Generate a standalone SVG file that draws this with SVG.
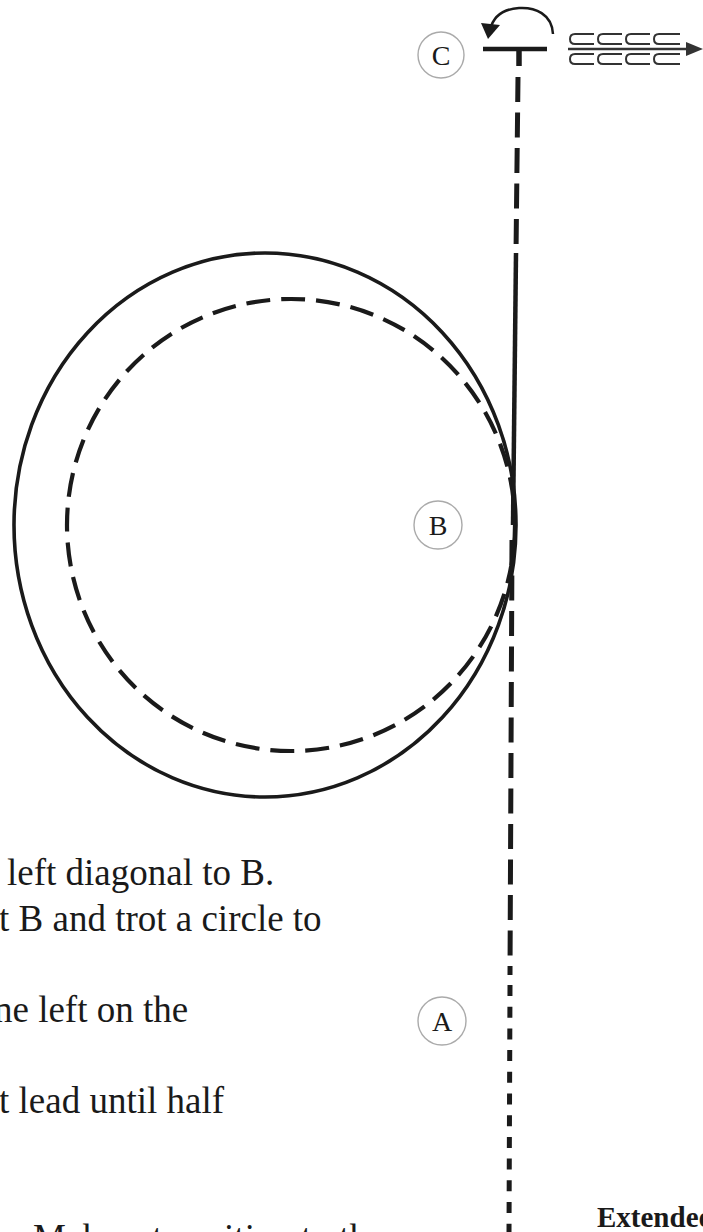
<svg xmlns="http://www.w3.org/2000/svg" width="703" height="1232" viewBox="0 0 703 1232">
<style>
.txt{font-family:"Liberation Serif","Times New Roman",serif;font-size:37px;fill:#1a1a1a}
.bold{font-family:"Liberation Serif","Times New Roman",serif;font-size:29px;font-weight:bold;fill:#1a1a1a}
.lbl{font-family:"Liberation Serif","Times New Roman",serif;font-size:28px;fill:#1a1a1a;text-anchor:middle}
.ring{fill:#fff;stroke:#aaa;stroke-width:1.4}
.ln{fill:none;stroke:#1a1a1a;stroke-linecap:butt}
.hoof{fill:none;stroke:#333;stroke-width:2}
</style>
<rect width="703" height="1232" fill="#fff"/>
<g id="connectors">
<ellipse class="ln" cx="265" cy="525" rx="251" ry="272" stroke-width="3.6"/>
<ellipse class="ln" cx="291" cy="525" rx="224" ry="226" stroke-width="4.2" stroke-dasharray="24 11"/>
<line class="ln" x1="483" y1="49" x2="547" y2="49" stroke-width="4.5"/>
<line class="ln" x1="519" y1="49" x2="519" y2="66" stroke-width="5.5"/>
<line class="ln" x1="518" y1="77" x2="516" y2="253" stroke-width="5" stroke-dasharray="25 10.5"/>
<line class="ln" x1="516" y1="253" x2="513" y2="525" stroke-width="4.5"/>
<line class="ln" x1="512" y1="540" x2="510" y2="975" stroke-width="5" stroke-dasharray="25 10.5"/>
<line class="ln" x1="510" y1="985" x2="509" y2="1232" stroke-width="5" stroke-dasharray="11 10.7"/>
<path class="ln" d="M553,34 C552,14 535,7 519,8 C503,9 493,17 490,30" stroke-width="2.5"/>
<path d="M481,23 L500,25 L488,39 Z" fill="#1a1a1a"/>
<line x1="568" y1="49" x2="688" y2="49" stroke="#333" stroke-width="2.5"/>
<path d="M686,42 L703,49 L686,56 Z" fill="#333"/>
<g id="hooves">
<path class="hoof" d="M594,34 H575 Q570,34 570,39 Q570,44 575,44 H594"/>
<path class="hoof" d="M622,34 H603 Q598,34 598,39 Q598,44 603,44 H622"/>
<path class="hoof" d="M650,34 H631 Q626,34 626,39 Q626,44 631,44 H650"/>
<path class="hoof" d="M680,34 H659 Q654,34 654,39 Q654,44 659,44 H680"/>
<path class="hoof" d="M594,54 H575 Q570,54 570,59 Q570,64 575,64 H594"/>
<path class="hoof" d="M622,54 H603 Q598,54 598,59 Q598,64 603,64 H622"/>
<path class="hoof" d="M650,54 H631 Q626,54 626,59 Q626,64 631,64 H650"/>
<path class="hoof" d="M680,54 H659 Q654,54 654,59 Q654,64 659,64 H680"/>
</g>
</g>
<g id="nodeC"><circle class="ring" cx="441" cy="55" r="23"/><text class="lbl" x="441" y="65">C</text></g>
<g id="nodeB"><circle class="ring" cx="438" cy="525" r="24"/><text class="lbl" x="438" y="535">B</text></g>
<g id="nodeA"><circle class="ring" cx="442" cy="1021" r="24"/><text class="lbl" x="442" y="1031">A</text></g>
<g id="text">
<text class="txt" x="7" y="885">left diagonal to B.</text>
<text class="txt" x="-1" y="931">t B and trot a circle to</text>
<text class="txt" x="-6" y="1022">ne left on the</text>
<text class="txt" x="-1" y="1113">t lead until half</text>
<text class="txt" x="33" y="1250">Make a transition to the</text>
<text class="bold" x="597" y="1227">Extended</text>
</g>
</svg>
